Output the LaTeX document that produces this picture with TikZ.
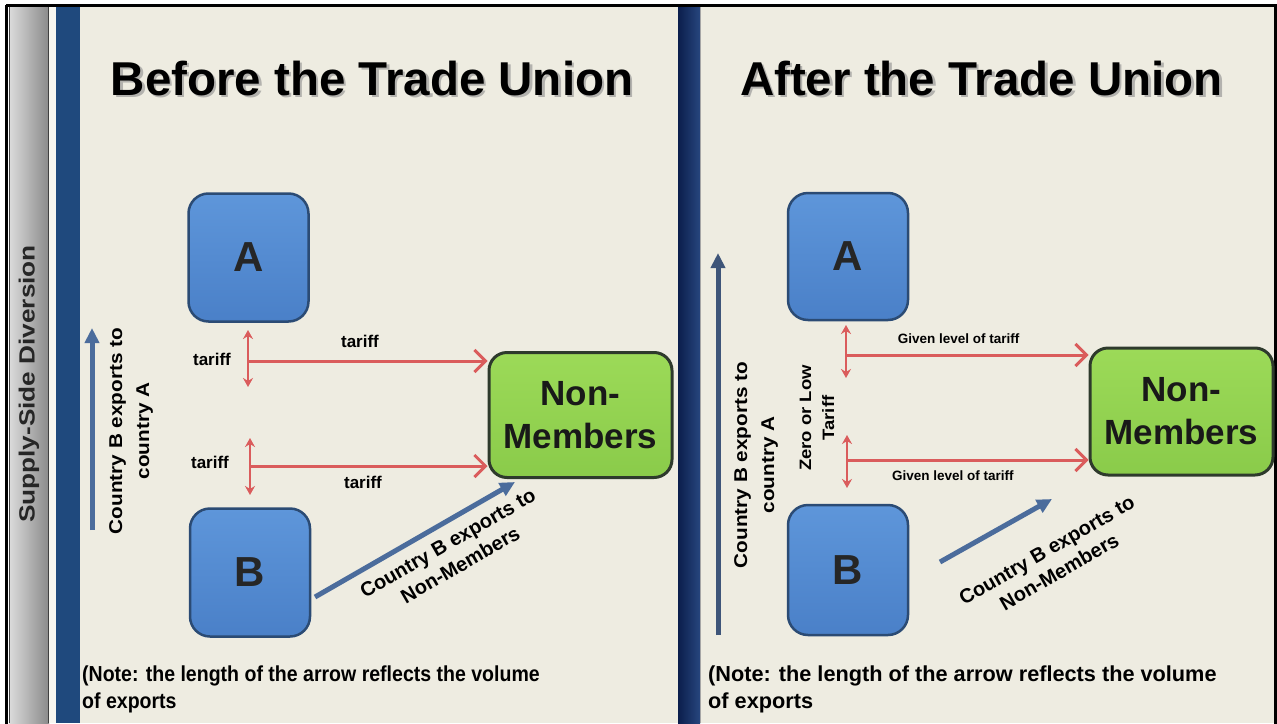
\documentclass[tikz,border=0pt]{standalone}
\usepackage{fontspec}
\setmainfont{Liberation Sans}
\usetikzlibrary{arrows.meta}

\definecolor{beige}{HTML}{EEECE1}
\definecolor{stripblue}{HTML}{1F497D}
\definecolor{navyL}{HTML}{0B1E4C}
\definecolor{navyR}{HTML}{27467E}
\definecolor{boxblueT}{HTML}{5E96DA}
\definecolor{boxblueB}{HTML}{4A80C8}
\definecolor{boxedge}{HTML}{2B4B74}
\definecolor{nmgreenT}{HTML}{9CDA58}
\definecolor{nmgreenB}{HTML}{8ACB4A}
\definecolor{nmedge}{HTML}{2E3A2C}
\definecolor{tarred}{HTML}{DA5C5C}
\definecolor{arrblue}{HTML}{4B6C9C}
\definecolor{arrblueD}{HTML}{3E5579}

\begin{document}
\begin{tikzpicture}[x=1pt,y=-1pt,
  country/.style={draw=boxedge, line width=2.5pt, rounded corners=20pt,
    top color=boxblueT, bottom color=boxblueB, minimum width=120pt,
    minimum height=128pt, inner sep=0pt, font=\fontsize{42}{42}\selectfont\bfseries, text=black!85},
  nonmem/.style={draw=nmedge, line width=3pt, rounded corners=18pt,
    top color=nmgreenT, bottom color=nmgreenB, minimum width=183pt,
    minimum height=125pt, inner sep=0pt, align=center,
    font=\fontsize{35}{43}\selectfont\bfseries, text=black!90},
  titletext/.style={anchor=base, inner sep=0pt, font=\fontsize{47.5}{50}\selectfont\bfseries},
  titleshadow/.style={titletext, text=black!45, opacity=0.6},
  tlabel/.style={inner sep=0pt, font=\fontsize{17}{20}\selectfont\bfseries},
  glabel/.style={inner sep=0pt, font=\fontsize{13.5}{16}\selectfont\bfseries},
  vlabel/.style={inner sep=0pt, rotate=90, align=center, font=\fontsize{18.5}{27}\selectfont\bfseries},
  dlabel/.style={inner sep=0pt, rotate=30, align=center, font=\fontsize{20}{25}\selectfont\bfseries},
  notetext/.style={anchor=base west, inner sep=0pt, font=\fontsize{21.7}{28}\selectfont\bfseries},
  tarvert/.style={draw=tarred, line width=2.5pt, {Stealth[length=9pt,width=10pt]}-{Stealth[length=9pt,width=10pt]}},
  tarhor/.style={draw=tarred, line width=3pt, -{Straight Barb[length=11pt,width=22pt]}},
  bluearrow/.style={draw=arrblue, line width=5pt, -{Triangle[length=15pt,width=14pt]}},
  bluearrowD/.style={draw=arrblueD, line width=5pt, -{Triangle[length=15pt,width=14pt]}}
]
\useasboundingbox (0,0) rectangle (1277,723);
% backgrounds
\fill[white] (0,0) rectangle (1277,723);
\fill[beige] (80,6) rectangle (1275,723);
\shade[left color=gray!28, right color=gray!92] (9,6) rectangle (49,723);
\draw[gray!50!black, line width=1pt] (9.5,6) -- (9.5,723);
\draw[gray!50!black, line width=1pt] (48.5,6) -- (48.5,723);
\fill[beige!50!white] (49,6) rectangle (56,723);
\fill[stripblue] (56,6) rectangle (80,723);
\shade[left color=navyL, right color=navyR] (678,6) rectangle (700,723);
\draw[gray!70, line width=0.8pt] (700.4,6) -- (700.4,723);
\draw[black, line width=3pt] (6,5) -- (1275.5,5) -- (1275.5,730);
\draw[black, line width=3pt] (6,5) -- (6,730);

% side title
\node[rotate=90, inner sep=0pt, text=black!85, font=\fontsize{22}{25}\selectfont\bfseries] (side) at (29,384) {\scalebox{1.19}[1]{Supply-Side Diversion}};

% titles
\node[titleshadow] at (374.5,97.5) {Before the Trade Union};
\node[titletext] (t1) at (372,95) {Before the Trade Union};
\node[titleshadow] at (984,97.5) {After the Trade Union};
\node[titletext] (t2) at (981.5,95) {After the Trade Union};

% ---------- left panel ----------
\node[country] (A1) at (248.5,257.5) {A};
\node[country] (B1) at (250,572.5) {B};
\node[nonmem] (N1) at (580.5,415) {Non-\\Members};

\coordinate (v1t) at (248,330); \coordinate (v1b) at (248,387); \coordinate (h1) at (248,361);
\draw[tarvert] (v1b) -- (v1t);
\draw[tarhor] (h1) -- (h1 -| N1.west);
\coordinate (v2t) at (250,438); \coordinate (v2b) at (250,495); \coordinate (h2) at (250,466);
\draw[tarvert] (v2b) -- (v2t);
\draw[tarhor] (h2) -- (h2 -| N1.west);

\node[tlabel] (la) at (212,359) {tariff};
\node[tlabel] (lb) at (360,341) {tariff};
\node[tlabel] (lc) at (210,462) {tariff};
\node[tlabel] (ld) at (363,482) {tariff};

\coordinate (s1) at (92,530); \coordinate (e1) at (92,328);
\draw[bluearrow] (s1) -- (e1);
\node[vlabel] (lab1) at (131,431) {\scalebox{1.12}[1]{Country B exports to}\\\scalebox{1.12}[1]{country A}};

\coordinate (d1s) at (315,597); \coordinate (d1e) at (515,482);
\draw[bluearrow] (d1s) -- (d1e);
\node[dlabel] (dl1) at (454,554) {Country B exports to\\Non-Members};

\node[notetext] (n1a) at (82,681) {\scalebox{0.9}[1]{(Note: the length of the arrow reflects the volume}};
\node[notetext] (n1b) at (82,708) {\scalebox{0.9}[1]{of exports}};

% ---------- right panel ----------
\node[country, minimum height=127pt] (A2) at (848,256.5) {A};
\node[country, minimum height=130pt] (B2) at (848,570) {B};
\node[nonmem, minimum height=127pt] (N2) at (1181.5,411.5) {Non-\\Members};

\coordinate (v3t) at (846,325); \coordinate (v3b) at (846,378); \coordinate (h3) at (846,355);
\draw[tarvert] (v3b) -- (v3t);
\draw[tarhor] (h3) -- (h3 -| N2.west);
\coordinate (v4t) at (847,435); \coordinate (v4b) at (847,488); \coordinate (h4) at (847,460);
\draw[tarvert] (v4b) -- (v4t);
\draw[tarhor] (h4) -- (h4 -| N2.west);

\node[glabel] (ga) at (958.7,339) {Given level of tariff};
\node[glabel] (gb) at (952.8,476) {Given level of tariff};
\node[vlabel, font=\fontsize{16.5}{23}\selectfont\bfseries] (zl) at (817,418) {\scalebox{1.12}[1]{Zero or Low}\\\scalebox{1.12}[1]{Tariff}};

\coordinate (s2) at (718,635); \coordinate (e2) at (718,253);
\draw[bluearrowD] (s2) -- (e2);
\node[vlabel] (lab2) at (756,465) {\scalebox{1.12}[1]{Country B exports to}\\\scalebox{1.12}[1]{country A}};

\coordinate (d2s) at (940,562); \coordinate (d2e) at (1052,499);
\draw[bluearrow] (d2s) -- (d2e);
\node[dlabel] (dl2) at (1053,561) {Country B exports to\\Non-Members};

\node[notetext] (n2a) at (708,681) {(Note: the length of the arrow reflects the volume};
\node[notetext] (n2b) at (708,708) {of exports};
\end{tikzpicture}
\end{document}
